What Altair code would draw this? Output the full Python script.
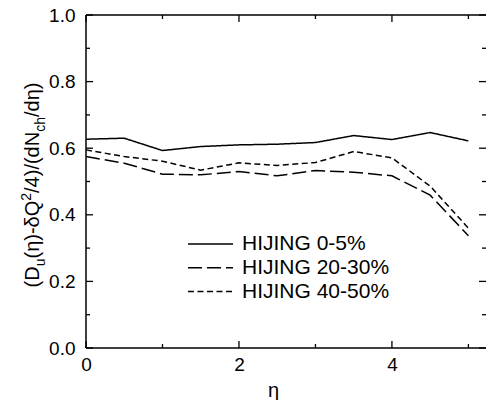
import altair as alt
import pandas as pd

# pseudorapidity grid and the three HIJING centrality curves
eta = [0.0, 0.5, 1.0, 1.5, 2.0, 2.5, 3.0, 3.5, 4.0, 4.5, 5.0]
hijing_0_5 = [0.627, 0.630, 0.593, 0.605, 0.610, 0.612, 0.617, 0.638, 0.626, 0.647, 0.622]
hijing_20_30 = [0.575, 0.555, 0.522, 0.520, 0.530, 0.517, 0.533, 0.528, 0.517, 0.459, 0.337]
hijing_40_50 = [0.595, 0.575, 0.561, 0.534, 0.556, 0.548, 0.557, 0.590, 0.571, 0.486, 0.360]
series_names = ["HIJING 0-5%", "HIJING 20-30%", "HIJING 40-50%"]
series_dash = [[1, 0], [14, 5], [6, 3.5]]

# axis ticks (labelled majors, unlabelled minors)
x_major = [0, 2, 4]
x_minor = [1, 3, 5]
y_major = [0.0, 0.2, 0.4, 0.6, 0.8, 1.0]
y_minor = [0.1, 0.3, 0.5, 0.7, 0.9]

# y-axis title split into normal / subscript / superscript runs
title_runs = [("(D", "main"), ("u", "sub"), ("(η)-δQ", "main"), ("2", "sup"),
              ("/4)/(dN", "main"), ("ch", "sub"), ("/dη)", "main")]

FONT = "Liberation Sans"
W, H = 400, 333
XMAX = 5.23
MAJOR_LEN, MINOR_LEN = 7, 4

rows = []
for name, vals in zip(series_names, [hijing_0_5, hijing_20_30, hijing_40_50]):
    for e, v in zip(eta, vals):
        rows.append({"eta": e, "value": v, "series": name})
df = pd.DataFrame(rows)

x_scale = alt.Scale(domain=[0, XMAX], nice=False, zero=False)
y_scale = alt.Scale(domain=[0, 1], nice=False, zero=False)

lines = alt.Chart(df).mark_line(color="black", strokeWidth=1.5).encode(
    x=alt.X("eta:Q", scale=x_scale,
            axis=alt.Axis(values=x_major, ticks=False, tickSize=0, domain=False, grid=False,
                          labelFont=FONT, labelFontSize=19, labelPadding=7, labelColor="black",
                          labelFlush=False, labelOverlap=False,
                          title="η", titleFont=FONT, titleFontSize=20, titleFontWeight="normal",
                          titleColor="black", titleX=187, titleY=48,
                          titleBaseline="alphabetic", titleAlign="center")),
    y=alt.Y("value:Q", scale=y_scale,
            axis=alt.Axis(values=y_major, format=".1f", ticks=False, tickSize=0, domain=False,
                          grid=False, labelFont=FONT, labelFontSize=19, labelPadding=11,
                          labelColor="black", labelFlush=False, labelOverlap=False, title=None)),
    strokeDash=alt.StrokeDash(
        "series:N",
        scale=alt.Scale(domain=series_names, range=series_dash),
        legend=alt.Legend(orient="none", legendX=101, legendY=218, title=None,
                          symbolType="stroke", symbolSize=2025, symbolStrokeWidth=1.5,
                          symbolStrokeColor="black", labelFont=FONT, labelFontSize=21,
                          labelColor="black", labelOffset=8, labelLimit=300,
                          clipHeight=22, rowPadding=1.8, padding=0),
    ),
)


def x_ticks(values, length):
    d = pd.DataFrame({"v": values})
    base = alt.Chart(d).mark_rule(color="black", strokeWidth=1.3)
    bottom = base.encode(x=alt.X("v:Q", scale=x_scale, axis=None),
                         y=alt.value(H), y2=alt.value(H - length))
    top = base.encode(x=alt.X("v:Q", scale=x_scale, axis=None),
                      y=alt.value(0), y2=alt.value(length))
    return [bottom, top]


def y_ticks(values, length):
    d = pd.DataFrame({"v": values})
    base = alt.Chart(d).mark_rule(color="black", strokeWidth=1.3)
    left = base.encode(y=alt.Y("v:Q", scale=y_scale, axis=None),
                       x=alt.value(0), x2=alt.value(length))
    right = base.encode(y=alt.Y("v:Q", scale=y_scale, axis=None),
                        x=alt.value(W), x2=alt.value(W - length))
    return [left, right]


one = pd.DataFrame({"k": [0]})
frame_base = alt.Chart(one).mark_rule(color="black", strokeWidth=1.5)
frame = [
    frame_base.encode(x=alt.value(0), y=alt.value(0), y2=alt.value(H)),
    frame_base.encode(x=alt.value(0), x2=alt.value(W), y=alt.value(H)),
    frame_base.encode(x=alt.value(0), x2=alt.value(W), y=alt.value(0)),
]

# rotated y title, run by run (Arial/Liberation advance widths in em)
adv = {"(": 0.333, ")": 0.333, "D": 0.722, "u": 0.556, "η": 0.556, "-": 0.333,
       "δ": 0.556, "Q": 0.778, "2": 0.556, "/": 0.278, "4": 0.556, "d": 0.556,
       "N": 0.722, "c": 0.5, "h": 0.556}
MAIN_FS, SMALL_FS = 20, 14
base_x = -47.5
shift = {"main": 0, "sub": 6, "sup": -8}
sizes = {"main": MAIN_FS, "sub": SMALL_FS, "sup": SMALL_FS}
total = sum(sum(adv[c] for c in t) * sizes[k] for t, k in title_runs)
pos = 170 + total / 2
title_layers = []
for t, k in title_runs:
    fs = sizes[k]
    title_layers.append(
        alt.Chart(one).mark_text(text=t, angle=270, align="left", baseline="alphabetic",
                                 font=FONT, fontSize=fs, color="black")
        .encode(x=alt.value(base_x + shift[k]), y=alt.value(pos))
    )
    pos -= sum(adv[c] for c in t) * fs

chart = alt.layer(
    lines,
    *x_ticks(x_major, MAJOR_LEN), *x_ticks(x_minor, MINOR_LEN),
    *y_ticks(y_major, MAJOR_LEN), *y_ticks(y_minor, MINOR_LEN),
    *frame, *title_layers,
).resolve_axis(
    x="independent", y="independent"
).properties(
    width=W, height=H,
    autosize=alt.AutoSizeParams(type="none"),
    padding={"left": 86, "top": 15, "right": 0, "bottom": 52},
    background="white",
).configure(font=FONT).configure_view(strokeWidth=0)

chart.save("out.html", embed_options={"renderer": "svg", "actions": False})
